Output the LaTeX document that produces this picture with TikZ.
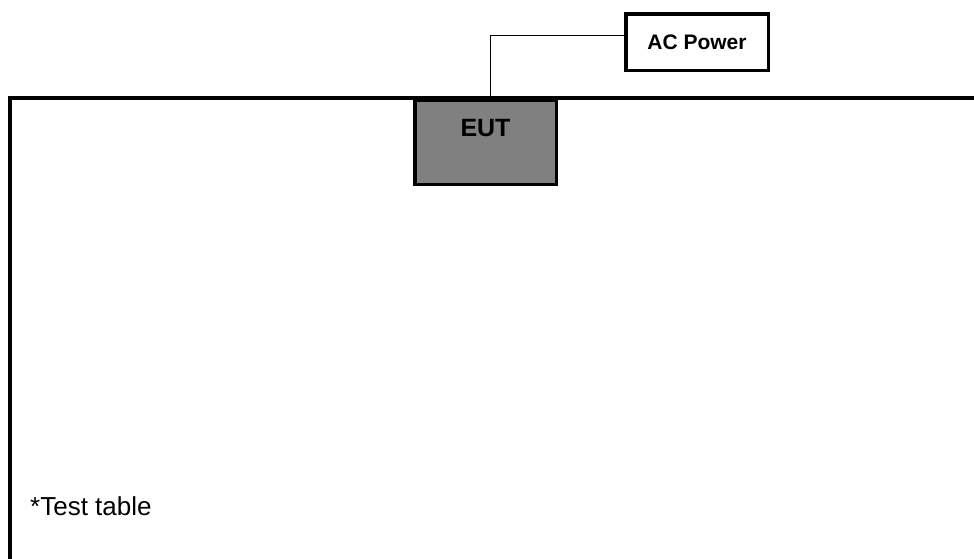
\documentclass[tikz,border=0pt]{standalone}
\usepackage{fontspec}
\setmainfont{Liberation Sans}
\usepackage{tikz}
\usetikzlibrary{calc}

\begin{document}
\begin{tikzpicture}[x=1pt,y=-1pt]
\useasboundingbox (0,0) rectangle (974,558);
% test table
\draw[line width=4pt] (9.5,560) -- (9.5,98) -- (976,98);
\node[anchor=base west,inner sep=0pt,font=\fontsize{26}{31}\selectfont] (table) at (30,515) {*Test table};
% equipment and supply
\node[draw,line width=3.5pt,fill=black!50,anchor=north,inner sep=0pt,minimum width=141.5pt,
      text height=36.5pt,text depth=47.5pt,font=\fontsize{25}{30}\selectfont\bfseries] (eut) at (485.5,98.5) {EUT};
\node[draw,line width=3.5pt,fill=white,inner sep=0pt,minimum width=142.5pt,minimum height=56.5pt,
      font=\fontsize{21}{25}\selectfont\bfseries] (power) at (697,42) {AC Power};
\draw[line width=1pt] ([xshift=4.5pt,yshift=-1.75pt]eut.north) |- ([yshift=7pt]power.west);
\end{tikzpicture}
\end{document}
